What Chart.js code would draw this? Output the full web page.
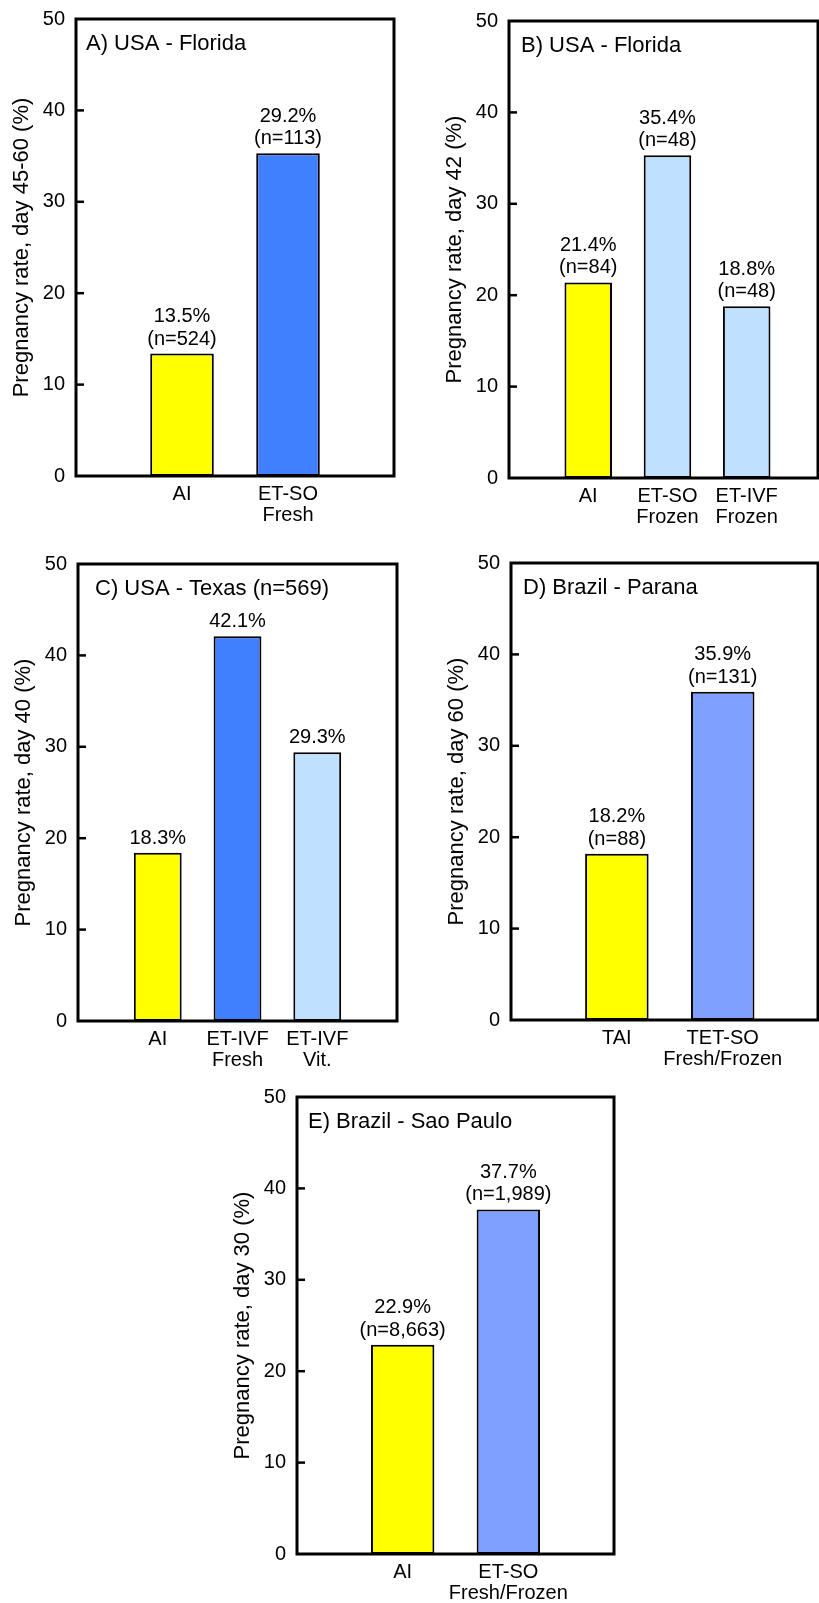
<!DOCTYPE html>
<html>
<head>
<meta charset="utf-8">
<script src="https://cdn.jsdelivr.net/npm/chart.js@4"></script>
<style>
  html, body { margin: 0; padding: 0; background: #fff; overflow: hidden; }
  body { position: relative; width: 819px; height: 1603px; }
  canvas { position: absolute; }
</style>
</head>
<body>
<canvas id="panelA"></canvas>
<canvas id="panelB"></canvas>
<canvas id="panelC"></canvas>
<canvas id="panelD"></canvas>
<canvas id="panelE"></canvas>
<script>
// A) USA - Florida
const catsA = ['AI', ['ET-SO', 'Fresh']];
const ratesA = [13.4, 35.3];
const labelsA = [['13.5%', '(n=524)'], ['29.2%', '(n=113)']];

// B) USA - Florida
const catsB = ['AI', ['ET-SO', 'Frozen'], ['ET-IVF', 'Frozen']];
const ratesB = [21.4, 35.3, 18.8];
const labelsB = [['21.4%', '(n=84)'], ['35.4%', '(n=48)'], ['18.8%', '(n=48)']];

// C) USA - Texas
const catsC = ['AI', ['ET-IVF', 'Fresh'], ['ET-IVF', 'Vit.']];
const ratesC = [18.4, 42.1, 29.4];
const labelsC = [['18.3%'], ['42.1%'], ['29.3%']];

// D) Brazil - Parana
const catsD = ['TAI', ['TET-SO', 'Fresh/Frozen']];
const ratesD = [18.2, 35.9];
const labelsD = [['18.2%', '(n=88)'], ['35.9%', '(n=131)']];

// E) Brazil - Sao Paulo
const catsE = ['AI', ['ET-SO', 'Fresh/Frozen']];
const ratesE = [22.9, 37.7];
const labelsE = [['22.9%', '(n=8,663)'], ['37.7%', '(n=1,989)']];

const yTicks = [0, 10, 20, 30, 40, 50];

const YELLOW = '#ffff00';
const BLUE = '#4080ff';
const PALE = '#c0e0ff';
const LAVENDER = '#80a0ff';

Chart.defaults.font.family = '"Liberation Sans", Arial, sans-serif';
Chart.defaults.color = '#000';

const Y_W = 70, PAD_TOP = 20, PAD_RIGHT = 4, X_H = 60;

function makePanel(id, box, opts) {
  const { cats, rates, labels, colors, title, yTitle, xMax, titleDx } = opts;
  const canvas = document.getElementById(id);
  canvas.width = box.right - box.left + Y_W + PAD_RIGHT;
  canvas.height = box.bottom - box.top + PAD_TOP + X_H;
  canvas.style.left = (box.left - Y_W) + 'px';
  canvas.style.top = (box.top - PAD_TOP) + 'px';

  // frame, inward y ticks, value labels and panel title
  const decorate = {
    id: 'decorate',
    afterDatasetsDraw(chart) {
      const ctx = chart.ctx;
      const area = chart.chartArea;
      const y = chart.scales.y;
      ctx.save();
      ctx.strokeStyle = '#000';
      ctx.lineWidth = 2.5;
      y.ticks.forEach(t => {
        if (t.value <= 0 || t.value >= 50) return;
        const py = y.getPixelForValue(t.value);
        ctx.beginPath();
        ctx.moveTo(area.left, py);
        ctx.lineTo(area.left + 8, py);
        ctx.stroke();
      });
      ctx.lineWidth = 3;
      ctx.strokeRect(area.left, area.top, area.right - area.left, area.bottom - area.top);

      ctx.fillStyle = '#000';
      ctx.font = '20px "Liberation Sans", Arial, sans-serif';
      ctx.textAlign = 'center';
      ctx.textBaseline = 'alphabetic';
      chart.getDatasetMeta(0).data.forEach((bar, i) => {
        const lines = labels[i];
        lines.forEach((txt, j) => {
          ctx.fillText(txt, bar.x, bar.y - 9 - (lines.length - 1 - j) * 22.5);
        });
      });

      ctx.font = '22px "Liberation Sans", Arial, sans-serif';
      ctx.textAlign = 'left';
      ctx.textBaseline = 'middle';
      ctx.fillText(title, area.left + titleDx, area.top + 25);
      ctx.restore();
    }
  };

  return new Chart(canvas, {
    type: 'bar',
    data: {
      datasets: [{
        data: rates.map((v, i) => ({ x: i + 1, y: v })),
        backgroundColor: colors,
        borderColor: '#000',
        borderWidth: 2,
        borderSkipped: false,
        categoryPercentage: 1,
        barPercentage: 0.6
      }]
    },
    options: {
      responsive: false,
      animation: false,
      devicePixelRatio: 1,
      layout: { padding: { left: 0, top: PAD_TOP, right: PAD_RIGHT, bottom: 0 } },
      plugins: { legend: { display: false }, tooltip: { enabled: false } },
      scales: {
        x: {
          type: 'linear',
          min: 0,
          max: xMax,
          bounds: 'data',
          offset: false,
          grid: { display: false, drawTicks: false, offset: false },
          border: { display: false },
          afterBuildTicks: s => { s.ticks = cats.map((c, i) => ({ value: i + 1 })); },
          afterFit: s => { s.height = X_H; },
          ticks: {
            autoSkip: false,
            maxRotation: 0,
            padding: 8.5,
            color: '#000',
            font: { size: 20, lineHeight: 1.03 },
            callback: v => cats[v - 1]
          }
        },
        y: {
          min: 0,
          max: 50,
          grid: { display: false, drawTicks: false },
          border: { display: false },
          afterBuildTicks: s => { s.ticks = yTicks.map(v => ({ value: v })); },
          afterFit: s => { s.width = Y_W; },
          ticks: { padding: 11, color: '#000', font: { size: 20 } },
          title: {
            display: true,
            text: yTitle,
            color: '#000',
            font: { size: 22 },
            padding: { top: 3, bottom: 0 }
          }
        }
      }
    },
    plugins: [decorate]
  });
}

makePanel('panelA', { left: 76, top: 16, right: 394, bottom: 476 }, {
  cats: catsA, rates: ratesA, labels: labelsA, colors: [YELLOW, BLUE],
  title: 'A) USA - Florida', yTitle: 'Pregnancy rate, day 45-60 (%)', xMax: 3, titleDx: 10
});
makePanel('panelB', { left: 509, top: 18, right: 818, bottom: 478 }, {
  cats: catsB, rates: ratesB, labels: labelsB, colors: [YELLOW, PALE, PALE],
  title: 'B) USA - Florida', yTitle: 'Pregnancy rate, day 42 (%)', xMax: 3.9, titleDx: 12
});
makePanel('panelC', { left: 78, top: 561, right: 397, bottom: 1021 }, {
  cats: catsC, rates: ratesC, labels: labelsC, colors: [YELLOW, BLUE, PALE],
  title: 'C) USA - Texas (n=569)', yTitle: 'Pregnancy rate, day 40 (%)', xMax: 4, titleDx: 17
});
makePanel('panelD', { left: 511, top: 560, right: 818, bottom: 1020 }, {
  cats: catsD, rates: ratesD, labels: labelsD, colors: [YELLOW, LAVENDER],
  title: 'D) Brazil - Parana', yTitle: 'Pregnancy rate, day 60 (%)', xMax: 2.9, titleDx: 12
});
makePanel('panelE', { left: 297, top: 1094, right: 614, bottom: 1554 }, {
  cats: catsE, rates: ratesE, labels: labelsE, colors: [YELLOW, LAVENDER],
  title: 'E) Brazil - Sao Paulo', yTitle: 'Pregnancy rate, day 30 (%)', xMax: 3, titleDx: 11
});
</script>
</body>
</html>
